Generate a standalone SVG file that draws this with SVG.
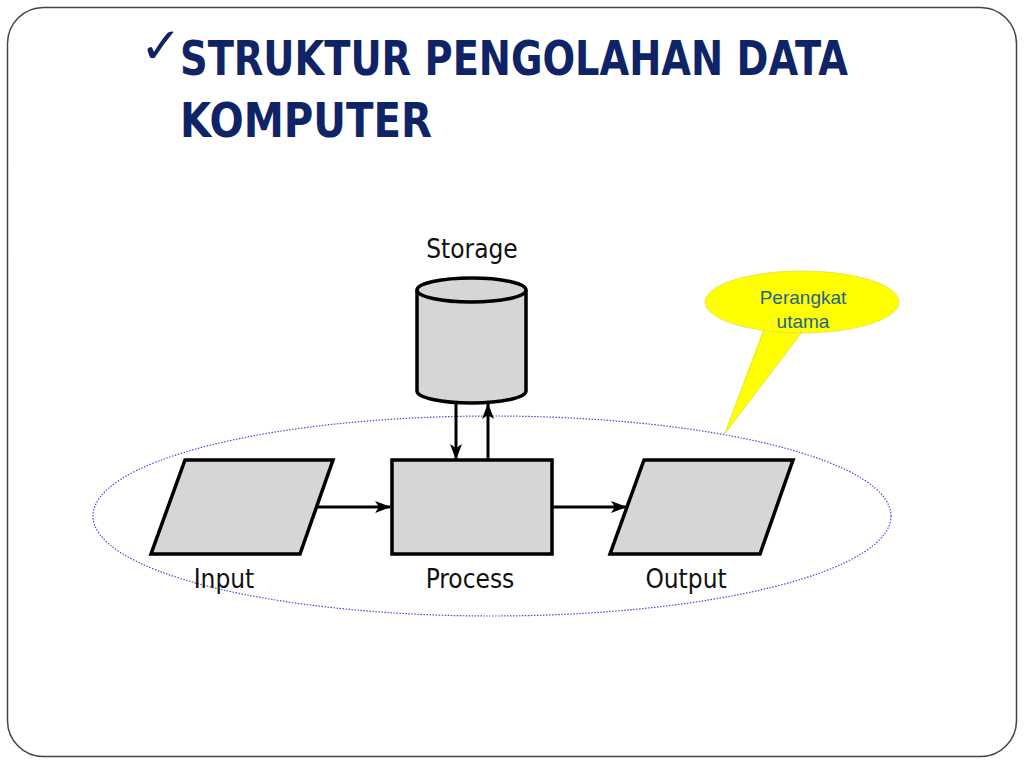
<svg xmlns="http://www.w3.org/2000/svg" width="1024" height="768" viewBox="0 0 1024 768">
<defs>
<style>
.shape{fill:#d6d6d6;stroke:#000;stroke-width:3.5;stroke-linejoin:miter}
.conn{stroke:#000;stroke-width:3;fill:none}
.lbl{font-family:"DejaVu Sans Condensed","Liberation Sans",sans-serif;font-size:26px;fill:#111;text-anchor:middle}
.title{font-family:"DejaVu Sans","Liberation Sans",sans-serif;font-weight:bold;font-size:48px;fill:#0f2467}
.call{font-family:"Liberation Sans",Arial,sans-serif;font-size:19px;fill:#1e6591;text-anchor:middle}
</style>
<marker id="ah" viewBox="0 0 16 12" refX="15" refY="6" markerWidth="16" markerHeight="12" markerUnits="userSpaceOnUse" orient="auto">
<path d="M0,0 L16,6 L0,12 L4,6 Z" fill="#000"/>
</marker>
</defs>
<rect x="0" y="0" width="1024" height="768" fill="#fff"/>
<rect x="7.5" y="7.5" width="1009" height="749" rx="36" ry="36" fill="none" stroke="#444" stroke-width="1.5"/>

<g id="title">
<text x="140" y="63" font-family="DejaVu Sans,sans-serif" font-size="50" fill="#0f2467">✓</text>
<text class="title" x="180" y="75" textLength="668" lengthAdjust="spacingAndGlyphs">STRUKTUR PENGOLAHAN DATA</text>
<text class="title" x="180" y="137" textLength="252" lengthAdjust="spacingAndGlyphs">KOMPUTER</text>
</g>

<g id="group-ellipse">
<ellipse cx="492" cy="516" rx="399" ry="100" fill="none" stroke="#4a4adf" stroke-width="1.2" stroke-dasharray="1.5,1.5"/>
</g>

<g id="callout">
<path d="M763,330 L724,435 L803,331 Z" fill="#ffff00"/>
<ellipse cx="802" cy="302" rx="97" ry="31" fill="#ffff00" stroke="#cccc55" stroke-width="1" stroke-dasharray="1,1"/>
<path d="M764,331 L724,435 L802,332" fill="none" stroke="#cccc55" stroke-width="1" stroke-dasharray="1,1"/>
<text class="call" x="803" y="304">Perangkat</text>
<text class="call" x="803" y="328">utama</text>
</g>

<g id="storage">
<path class="shape" d="M417,290 L417,391 A54.5,12 0 0 0 526,391 L526,290 A54.5,12 0 0 0 417,290 Z"/>
<path class="shape" d="M417,290 A54.5,12 0 0 0 526,290" fill="none"/>
<text class="lbl" x="472" y="258">Storage</text>
</g>

<g id="input">
<polygon class="shape" points="185,460 333,460 300,554 151,554"/>
<text class="lbl" x="224" y="588">Input</text>
</g>

<g id="process">
<rect class="shape" x="392" y="460" width="160" height="94"/>
<text class="lbl" x="470" y="588">Process</text>
</g>

<g id="output">
<polygon class="shape" points="644,460 793,460 760,554 610,554"/>
<text class="lbl" x="686" y="588">Output</text>
</g>

<g id="connectors">
<line class="conn" x1="456" y1="403" x2="456" y2="459" marker-end="url(#ah)"/>
<line class="conn" x1="488" y1="460" x2="488" y2="404" marker-end="url(#ah)"/>
<line class="conn" x1="317" y1="507" x2="390" y2="507" marker-end="url(#ah)"/>
<line class="conn" x1="552" y1="507" x2="626" y2="507" marker-end="url(#ah)"/>
</g>
</svg>
